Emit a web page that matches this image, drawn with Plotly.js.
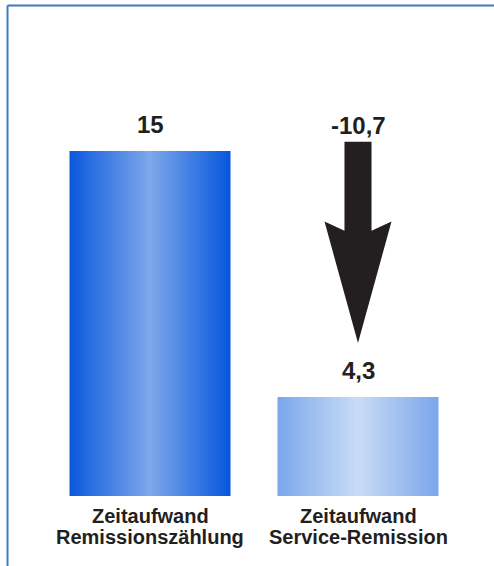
<!DOCTYPE html>
<html>
<head>
<meta charset="utf-8">
<script src="https://cdn.plot.ly/plotly-3.0.1.min.js"></script>
<style>
  html, body { margin: 0; padding: 0; background: #ffffff; overflow: hidden; }
  #chart { width: 494px; height: 566px; }
</style>
</head>
<body>
<div id="chart"></div>
<script>
// ---- data ----
const categories = ["Zeitaufwand Remissionszählung", "Zeitaufwand Service-Remission"];
const labelLine1 = ["Zeitaufwand", "Zeitaufwand"];
const labelLine2 = ["Remissionszählung", "Service-Remission"];
const values = [15, 4.3];
const valueLabels = ["15", "4,3"];
const differenceLabel = "-10,7";

const textColor = "#231f20";
const frameColor = "#3d7bbb";
const numFont = { family: "Liberation Sans Narrow, Liberation Sans, Arial, sans-serif", size: 24, weight: 700, color: textColor };
const catFont = { family: "Liberation Sans, Arial, sans-serif", size: 20, weight: 700, color: textColor };

const trace = {
  type: "bar",
  x: categories,
  y: values,
  marker: { color: ["#3f7fe0", "#a6c4f0"], line: { width: 0 } },
  hoverinfo: "none"
};

const annotations = [];
categories.forEach((c, i) => {
  annotations.push({ x: c, y: values[i], xref: "x", yref: "y", text: valueLabels[i],
    showarrow: false, yanchor: "bottom", yshift: 11, font: numFont });
  annotations.push({ x: c, y: 0, xref: "x", yref: "paper", text: labelLine1[i],
    showarrow: false, yanchor: "top", yshift: -7, font: catFont });
  annotations.push({ x: c, y: 0, xref: "x", yref: "paper", text: labelLine2[i],
    showarrow: false, yanchor: "top", yshift: -28, font: catFont });
});

// arrow from the first value's level down towards the second bar
const ax = 1;                      // category index of second bar
const yTop = values[0] + 0.4;
const yTip = values[1] + 2.35;
const yHeadOuter = yTip + 5.28;
const yHeadInner = yTip + 4.88;
const shaftHalf = 0.065, headHalf = 0.161;
const arrowPath = [
  "M", ax - shaftHalf, yTop,
  "L", ax + shaftHalf, yTop,
  "L", ax + shaftHalf, yHeadInner,
  "L", ax + headHalf, yHeadOuter,
  "L", ax, yTip,
  "L", ax - headHalf, yHeadOuter,
  "L", ax - shaftHalf, yHeadInner, "Z"
].join(" ");

annotations.push({ x: categories[1], y: yTop, xref: "x", yref: "y", text: differenceLabel,
  showarrow: false, yanchor: "bottom", yshift: 1, font: numFont });

// frame (top and left edges) in paper coordinates
const fx0 = -0.0925, fx1 = 1.1, fy1 = 1.0665, fy0 = -0.2;

const layout = {
  width: 494, height: 566,
  margin: { l: 46, r: 32, t: 36, b: 70, pad: 0 },
  paper_bgcolor: "#ffffff",
  plot_bgcolor: "rgba(0,0,0,0)",
  showlegend: false,
  bargap: 0.226,
  separators: ",.",
  xaxis: { type: "category", range: [-0.5, 1.5], showticklabels: false, showgrid: false,
           zeroline: false, showline: false, ticks: "" },
  yaxis: { range: [0, 20], visible: false, showgrid: false, zeroline: false },
  shapes: [
    { type: "path", xref: "x", yref: "y", path: arrowPath, fillcolor: textColor, line: { width: 0 } },
    { type: "line", xref: "paper", yref: "paper", x0: fx0, x1: fx1, y0: fy1, y1: fy1,
      line: { color: frameColor, width: 2 } },
    { type: "line", xref: "paper", yref: "paper", x0: fx0, x1: fx0, y0: fy0, y1: fy1,
      line: { color: frameColor, width: 2 } }
  ],
  annotations: annotations
};

Plotly.newPlot("chart", [trace], layout, { staticPlot: true, displayModeBar: false }).then(gd => {
  const svg = gd.querySelector(".main-svg");
  const ns = "http://www.w3.org/2000/svg";
  let defs = svg.querySelector("defs");
  if (!defs) { defs = document.createElementNS(ns, "defs"); svg.insertBefore(defs, svg.firstChild); }
  const grads = [
    [["0%", "#0a58de"], ["50%", "#7ea8ea"], ["100%", "#0656de"]],
    [["0%", "#7ca7eb"], ["50%", "#c9dcf6"], ["100%", "#7aa6eb"]]
  ];
  grads.forEach((stops, i) => {
    const lg = document.createElementNS(ns, "linearGradient");
    lg.setAttribute("id", "barGrad" + i);
    lg.setAttribute("x1", "0"); lg.setAttribute("x2", "1");
    lg.setAttribute("y1", "0"); lg.setAttribute("y2", "0");
    stops.forEach(s => {
      const st = document.createElementNS(ns, "stop");
      st.setAttribute("offset", s[0]);
      st.setAttribute("stop-color", s[1]);
      lg.appendChild(st);
    });
    defs.appendChild(lg);
  });
  gd.querySelectorAll(".barlayer .point path").forEach((p, i) => {
    p.style.fill = "url(#barGrad" + i + ")";
  });
});
</script>
</body>
</html>
